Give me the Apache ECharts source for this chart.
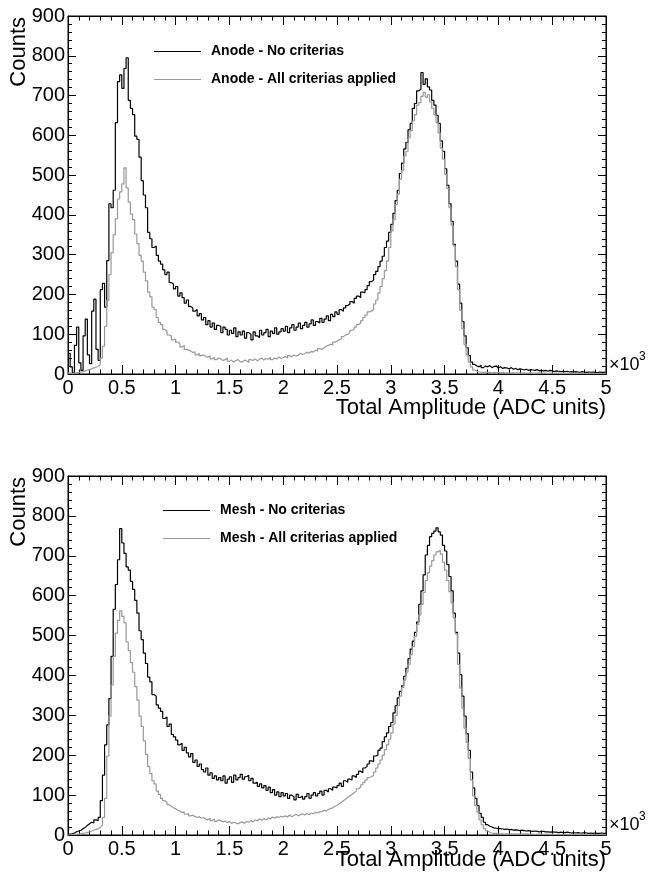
<!DOCTYPE html>
<html>
<head>
<meta charset="utf-8">
<script src="https://cdn.jsdelivr.net/npm/echarts@6/dist/echarts.min.js"></script>
<style>
html,body{margin:0;padding:0;background:#fff;}
#chart{width:653px;height:879px;}
</style>
</head>
<body>
<div id="chart"></div>
<script>
// Histogram bin width (in units of 10^3 ADC); bin i spans [i*binWidth, (i+1)*binWidth]
const binWidth = 0.02;
const xMin = 0, xMax = 5, xStep = 0.5;
const yMin = 0, yMax = 900, yStep = 100;

const anodeNames = ['Anode - No criterias', 'Anode - All criterias applied'];
const meshNames = ['Mesh - No criterias', 'Mesh - All criterias applied'];

const anodeNoCut = [
52,18,3,72,118,28,9,96,138,48,
26,158,188,62,34,212,228,168,285,428,
418,462,632,735,752,718,768,795,688,668,
652,598,590,545,486,450,418,356,340,318,
322,298,284,276,262,250,256,230,226,214,
220,196,204,192,178,186,170,166,158,162,
146,152,136,142,124,134,118,128,112,122,
120,104,118,112,98,110,102,116,94,106,
98,108,90,104,100,86,106,96,92,110,
98,104,112,94,108,102,116,100,106,114,
108,120,104,116,124,110,118,128,114,122,
130,118,126,136,122,132,128,140,130,138,
146,134,150,144,156,150,162,158,166,172,
176,182,178,190,196,192,206,204,212,222,
232,236,250,258,270,284,296,318,334,356,
376,404,436,462,504,530,566,582,614,630,
668,680,712,716,758,728,742,722,714,688,
676,650,630,586,560,516,474,428,384,326,
284,226,178,132,96,66,46,30,24,20,
18,22,16,20,18,21,16,19,20,15,
18,14,16,15,13,16,12,14,11,13,
12,10,12,9,11,10,9,11,8,9,
8,9,7,9,8,6,8,7,6,7,
6,7,5,6,5,6,5,4,6,5,
4,5,4,5,4,3,5,4,4,5
];

const anodeAllCut = [
2,1,2,3,4,5,6,8,10,11,
13,15,17,19,24,40,70,120,185,250,
305,350,390,440,458,478,518,468,432,402,
388,352,328,298,284,256,234,206,194,168,
162,142,130,124,112,108,98,96,86,88,
80,76,68,72,62,60,58,54,56,48,
52,46,48,44,42,46,38,42,36,40,
38,34,36,40,32,35,30,34,36,31,
30,35,33,29,36,34,38,33,37,40,
35,39,37,42,36,40,38,43,39,41,
44,40,46,43,48,45,47,52,49,51,
55,52,57,55,60,58,64,62,66,70,
72,75,73,80,82,86,88,94,98,100,
104,110,112,118,124,128,134,142,148,156,
158,162,176,186,204,220,240,260,284,318,
360,388,426,452,490,512,548,560,594,612,
636,652,676,682,698,708,696,702,684,668,
652,632,606,568,540,502,466,418,374,322,
270,212,160,114,74,48,30,18,10,7,
5,5,4,5,4,4,3,4,3,4,
3,4,3,3,2,3,3,2,3,2,
2,3,2,2,3,2,2,2,3,2,
2,2,1,2,2,1,2,2,1,2,
1,2,1,1,2,1,1,2,1,1,
1,1,2,1,1,1,1,1,1,1
];

const meshNoCut = [
2,3,5,8,10,12,16,19,24,28,
32,30,38,36,44,86,150,226,276,342,
448,566,628,690,768,732,706,672,664,636,
616,588,556,512,490,456,430,396,384,352,
348,326,318,310,292,296,272,278,252,246,
238,226,230,212,220,206,196,204,182,188,
172,178,164,158,168,150,156,142,148,138,
144,136,148,130,140,146,132,150,138,144,
152,140,146,150,136,142,130,132,122,128,
118,124,112,120,106,114,100,108,96,106,
98,104,92,100,96,88,102,94,98,90,
96,104,92,100,106,98,104,110,100,112,
108,116,112,120,118,124,130,122,136,132,
140,138,148,144,152,160,156,168,172,178,
186,184,198,200,212,218,234,246,256,272,
282,306,324,344,360,374,398,418,442,466,
486,508,534,578,612,652,702,726,748,756,
762,770,760,752,726,712,678,648,612,556,
508,456,402,348,298,254,212,158,118,92,
74,54,44,32,26,22,20,18,17,16,
16,15,14,15,13,14,12,13,12,11,
12,11,10,11,10,9,10,9,8,9,
9,8,8,7,8,7,7,6,7,6,
6,7,6,5,6,5,6,5,5,6,
5,4,5,4,5,4,4,5,4,4
];

const meshAllCut = [
0,1,1,2,2,3,4,5,6,8,
10,12,14,16,19,24,44,92,198,298,
376,448,506,538,562,548,532,484,462,432,
408,372,338,298,272,236,202,172,154,136,
128,110,102,92,86,82,76,72,68,66,
62,60,56,58,52,54,48,50,46,44,
46,42,44,40,38,42,36,40,34,38,
36,33,35,31,34,29,32,30,28,31,
33,29,34,32,36,33,38,35,40,37,
41,38,43,40,45,42,46,44,47,45,
48,45,50,46,49,52,48,51,53,50,
54,51,55,53,57,55,59,58,62,60,
64,66,68,72,74,78,82,86,90,94,
98,102,106,110,116,120,126,132,138,144,
146,150,158,168,178,188,200,214,226,240,
256,278,300,324,348,370,388,408,428,452,
472,498,528,552,578,608,638,658,674,688,
702,710,714,704,684,664,638,610,582,544,
504,428,368,318,268,232,192,138,98,74,
58,38,26,16,10,7,5,4,4,3,
3,3,2,3,3,2,3,2,2,3,
2,2,3,2,2,2,1,2,2,2,
1,2,2,1,2,1,1,2,1,1,
2,1,1,1,1,2,1,1,1,1,
1,1,1,1,0,1,1,1,0,1
];

function toSteps(vals) {
  const pts = vals.map((v, i) => [+(i * binWidth).toFixed(3), v]);
  pts.push([+(vals.length * binWidth).toFixed(3), vals[vals.length - 1]]);
  return pts;
}

const FONT = 'Liberation Sans, Arial, Helvetica, sans-serif';
const BLACK = '#000000';
const GRAY = '#999999';

function xAxisDef(gridIndex, top) {
  return {
    type: 'value', gridIndex: gridIndex, position: top ? 'top' : 'bottom',
    min: xMin, max: xMax, interval: xStep,
    axisLine: { show: true, onZero: false, lineStyle: { color: BLACK, width: 1 } },
    axisTick: { show: true, inside: true, length: 9, lineStyle: { color: BLACK, width: 1 } },
    minorTick: { show: true, splitNumber: 5, length: 4.5, lineStyle: { color: BLACK, width: 1 } },
    splitLine: { show: false },
    axisLabel: { show: !top, fontSize: 20, color: BLACK, fontFamily: FONT, margin: 4 }
  };
}
function yAxisDef(gridIndex, right) {
  return {
    type: 'value', gridIndex: gridIndex, position: right ? 'right' : 'left',
    min: yMin, max: yMax, interval: yStep,
    axisLine: { show: true, onZero: false, lineStyle: { color: BLACK, width: 1 } },
    axisTick: { show: true, inside: true, length: 8, lineStyle: { color: BLACK, width: 1 } },
    minorTick: { show: true, splitNumber: 5, length: 4, lineStyle: { color: BLACK, width: 1 } },
    splitLine: { show: false },
    axisLabel: { show: !right, fontSize: 20, color: BLACK, fontFamily: FONT, margin: 3 }
  };
}
function seriesDef(name, vals, color, axisIdx) {
  return {
    type: 'line', name: name, data: toSteps(vals), step: 'end',
    xAxisIndex: axisIdx, yAxisIndex: axisIdx,
    symbol: 'none', showSymbol: false,
    itemStyle: { color: color },
    lineStyle: { color: color, width: 1.2 },
    emphasis: { disabled: true }
  };
}
function legendDef(names, left, top) {
  return {
    data: names, left: left, top: top, orient: 'vertical',
    icon: 'rect', itemWidth: 47, itemHeight: 1, itemGap: 12,
    selectedMode: false,
    textStyle: { fontSize: 14, fontWeight: 'bold', fontFamily: FONT, color: BLACK, lineHeight: 16, padding: [0, 0, 0, 5] }
  };
}
function texts(dy) {
  return [
    { type: 'text', x: 19, y: 17 + dy, rotation: Math.PI / 2,
      style: { text: 'Counts', fontSize: 22, fontFamily: FONT, fill: BLACK, align: 'right', verticalAlign: 'middle' } },
    { type: 'text', x: 606, y: 408 + dy * 0.982,
      style: { text: 'Total Amplitude (ADC units)', fontSize: 22, fontFamily: FONT, fill: BLACK, align: 'right', verticalAlign: 'middle' } },
    { type: 'text', x: 609, y: 365 + dy,
      style: { text: '\u00d710', fontSize: 18, fontFamily: FONT, fill: BLACK, align: 'left', verticalAlign: 'middle' } },
    { type: 'text', x: 639, y: 357 + dy,
      style: { text: '3', fontSize: 12, fontFamily: FONT, fill: BLACK, align: 'left', verticalAlign: 'middle' } }
  ];
}

const chart = echarts.init(document.getElementById('chart'), null, { renderer: 'canvas' });
chart.setOption({
  animation: false,
  backgroundColor: '#ffffff',
  grid: [
    { left: 68, top: 16, width: 538, height: 358, show: true, borderColor: BLACK, borderWidth: 1, backgroundColor: 'transparent' },
    { left: 68, top: 476, width: 538, height: 359, show: true, borderColor: BLACK, borderWidth: 1, backgroundColor: 'transparent' }
  ],
  xAxis: [xAxisDef(0, false), xAxisDef(0, true), xAxisDef(1, false), xAxisDef(1, true)],
  yAxis: [yAxisDef(0, false), yAxisDef(0, true), yAxisDef(1, false), yAxisDef(1, true)],
  legend: [legendDef(anodeNames, 149, 38.5), legendDef(meshNames, 158, 497.5)],
  series: [
    seriesDef(anodeNames[0], anodeNoCut, BLACK, 0),
    seriesDef(anodeNames[1], anodeAllCut, GRAY, 0),
    seriesDef(meshNames[0], meshNoCut, BLACK, 2),
    seriesDef(meshNames[1], meshAllCut, GRAY, 2)
  ],
  graphic: texts(0).concat(texts(460))
});
</script>
</body>
</html>
